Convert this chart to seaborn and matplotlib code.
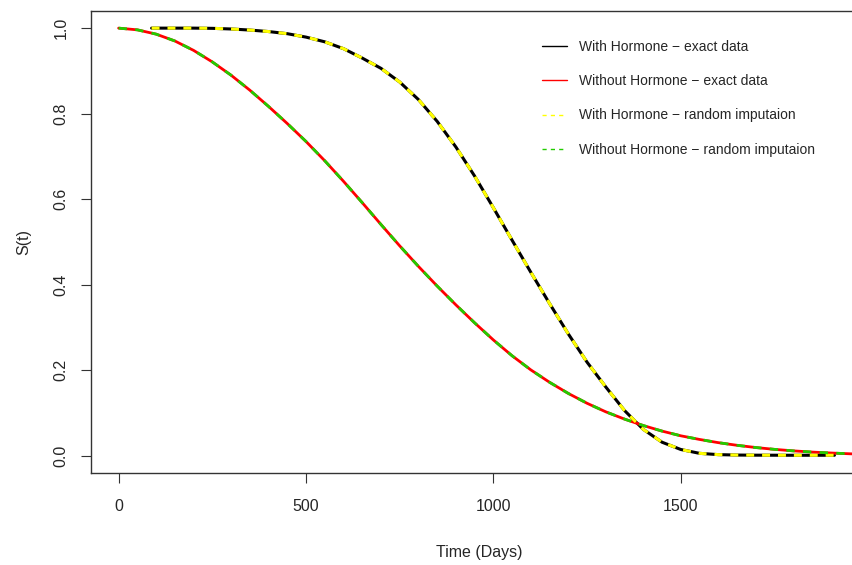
import numpy as np
import pandas as pd
import matplotlib
matplotlib.use("Agg")
import matplotlib.pyplot as plt
import seaborn as sns
from matplotlib.lines import Line2D

# valores
t_com = [88, 200, 250, 300, 350, 400, 450, 500, 550, 600, 650, 700, 750, 800,
         850, 900, 950, 1000, 1050, 1100, 1150, 1200, 1250, 1300, 1350, 1400,
         1450, 1500, 1550, 1600, 1650, 1700, 1800, 1910]
s_com = [1.0, 1.0, 0.9995, 0.998, 0.9955, 0.992, 0.987, 0.979, 0.968, 0.952,
         0.930, 0.906, 0.874, 0.833, 0.782, 0.722, 0.654, 0.580, 0.504, 0.429,
         0.356, 0.285, 0.219, 0.161, 0.106, 0.062, 0.032, 0.015, 0.006, 0.003,
         0.002, 0.0017, 0.0015, 0.0015]

t_sem = [0, 50, 100, 150, 200, 250, 300, 350, 400, 450, 500, 550, 600, 650,
         700, 750, 800, 850, 900, 950, 1000, 1050, 1100, 1150, 1200, 1250,
         1300, 1350, 1400, 1450, 1500, 1550, 1600, 1650, 1700, 1750, 1800,
         1850, 1900, 1950, 2000]
s_sem = [1.0, 0.996, 0.986, 0.970, 0.948, 0.921, 0.890, 0.855, 0.817, 0.777,
         0.735, 0.690, 0.642, 0.592, 0.541, 0.491, 0.443, 0.397, 0.353, 0.311,
         0.271, 0.234, 0.201, 0.172, 0.146, 0.123, 0.103, 0.086, 0.071, 0.058,
         0.047, 0.0385, 0.031, 0.0248, 0.0196, 0.0153, 0.0118, 0.009, 0.0068,
         0.005, 0.0035]

# imputação aleatória (praticamente igual aos dados exatos)
t_com_imp = list(t_com)
s_com_imp = list(s_com)
t_sem_imp = list(t_sem)
s_sem_imp = list(s_sem)

rotulos = ["With Hormone \u2212 exact data",
           "Without Hormone \u2212 exact data",
           "With Hormone \u2212 random imputaion",
           "Without Hormone \u2212 random imputaion"]

sns.set_style("white")
plt.rcParams['font.family'] = ['Liberation Sans', 'DejaVu Sans']

fig = plt.figure(figsize=(8.53, 5.65), dpi=100)
ax = fig.add_axes([0.1061, 0.1628, 0.9117, 0.8177])

sns.lineplot(x=t_com, y=s_com, ax=ax, color="black", lw=2.2,
             sort=False, estimator=None)
sns.lineplot(x=t_sem, y=s_sem, ax=ax, color="red", lw=2,
             sort=False, estimator=None)
sns.lineplot(x=t_com_imp, y=s_com_imp, ax=ax, color="yellow", lw=2.2,
             linestyle=(0, (2.6, 2.6)), sort=False, estimator=None)
sns.lineplot(x=t_sem_imp, y=s_sem_imp, ax=ax, color="#22cc00", lw=2,
             linestyle=(0, (3, 3)), sort=False, estimator=None)

ax.set_xlim(-75, 2000)
ax.set_ylim(-0.04, 1.04)
ax.set_xticks([0, 500, 1000, 1500])
ax.set_yticks([0.0, 0.2, 0.4, 0.6, 0.8, 1.0])
ax.set_yticklabels(["0.0", "0.2", "0.4", "0.6", "0.8", "1.0"],
                   rotation=90, va="center")
ax.tick_params(axis="both", direction="out", length=7, width=0.8,
               color="#333333", labelsize=11.5, pad=9, bottom=True, left=True)
ax.tick_params(axis="x", pad=12)
for lado in ["left", "bottom", "top", "right"]:
    ax.spines[lado].set_color("#333333")
    ax.spines[lado].set_linewidth(1)

ax.set_xlabel("Time (Days)", fontsize=11.5, labelpad=22)
ax.set_ylabel("S(t)", fontsize=11.5, labelpad=16)

handles = [Line2D([], [], color="black", lw=1),
           Line2D([], [], color="red", lw=1),
           Line2D([], [], color="yellow", lw=1, linestyle=(0, (3, 3))),
           Line2D([], [], color="#22cc00", lw=1, linestyle=(0, (3, 3)))]
ax.legend(handles, rotulos, loc="upper left",
          bbox_to_anchor=(0.635, 0.93), bbox_transform=fig.transFigure,
          frameon=False, fontsize=10, handlelength=1.8, handletextpad=0.9,
          labelspacing=1.47, borderpad=0, borderaxespad=0)

fig.savefig("out.png", dpi=100)
